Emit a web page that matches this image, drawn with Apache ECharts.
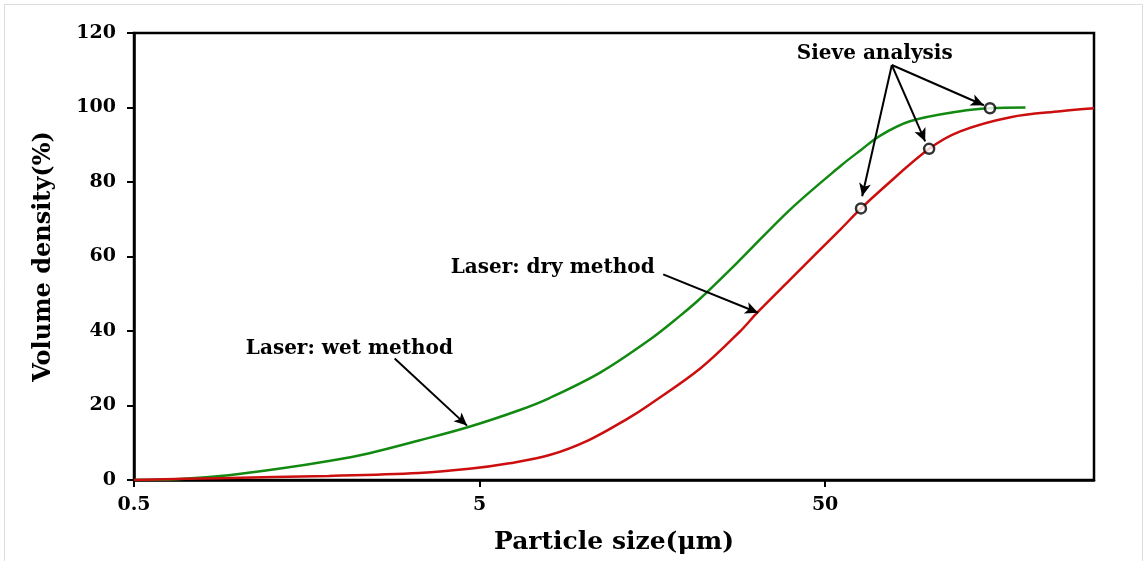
<!DOCTYPE html>
<html>
<head>
<meta charset="utf-8">
<script src="https://cdn.jsdelivr.net/npm/echarts@6/dist/echarts.min.js"></script>
<style>
html,body{margin:0;padding:0;background:#fff;}
#chart{width:1146px;height:561px;}
</style>
</head>
<body>
<div id="chart"></div>
<script>
// Particle size (µm) and cumulative volume (%)
const wetSize = [0.5, 0.68, 0.94, 1.31, 1.83, 2.4, 3.34, 4.67, 6.54, 7.97, 11.2, 15.5, 18.97, 21.8, 28.3, 39.6, 55.4, 63.5, 72, 88, 123, 150, 190];
const wetVol  = [0, 0.3, 1.3, 3.0, 5.1, 7.2, 10.6, 14.3, 18.8, 22.0, 28.9, 37.6, 44.0, 48.8, 59.0, 72.6, 84.3, 88.6, 92.4, 96.3, 99, 99.8, 100];
const drySize = [0.5, 0.88, 1.83, 3.34, 4.67, 6.1, 7.97, 10.4, 13.6, 15.5, 21.8, 28.3, 32, 39.6, 55.4, 63.5, 72, 100, 123, 172, 240, 300];
const dryVol  = [0, 0.5, 1.1, 1.9, 3.0, 4.5, 6.7, 10.8, 16.8, 20.2, 30.0, 39.8, 45.2, 53.8, 67.3, 72.9, 77.6, 88.9, 93.6, 97.4, 99, 99.8];
const sieveSize = [63.5, 100, 150];
const sieveVol  = [72.9, 88.9, 99.8];
const xTicks = [0.5, 5, 50];
// annotation texts and their anchor points (data space)
const noteText = ['Laser: wet method', 'Laser: dry method', 'Sieve analysis'];
const noteSize = [2.1, 8.14, 69.6];
const noteVol  = [35.2, 57, 114.3];
// arrows: start [size, vol] -> end [size, vol]
const arrowFrom = [[2.84, 32.6], [17.0, 55.2], [78, 111.4], [78, 111.4], [78, 111.4]];
const arrowTo   = [[4.6, 14.6], [32.0, 44.9], [64, 76.2], [97.4, 90.9], [144, 100.6]];

const FONT = 'DejaVu Serif';
const zip = (a, b) => a.map((v, i) => [v, b[i]]);

const chart = echarts.init(document.getElementById('chart'));
chart.setOption({
  animation: false,
  backgroundColor: '#fff',
  graphic: [{
    type: 'rect', shape: {x: 4.5, y: 4.5, width: 1138, height: 570},
    style: {fill: 'none', stroke: '#dcdcdc', lineWidth: 1}, silent: true
  }],
  grid: {
    left: 134, right: 52, top: 33, bottom: 81,
    show: true, borderColor: '#000', borderWidth: 2.5, backgroundColor: 'transparent'
  },
  xAxis: {
    type: 'log', logBase: 10, min: 0.5, max: 300,
    name: 'Particle size(\u03bcm)', nameLocation: 'middle', nameGap: 50,
    nameTextStyle: {fontFamily: FONT, fontWeight: 'bold', fontSize: 25, color: '#000'},
    axisLine: {show: true, lineStyle: {color: '#000', width: 2.5}},
    axisTick: {show: true, length: 7, lineStyle: {color: '#000', width: 2}, customValues: xTicks},
    axisLabel: {show: true, customValues: xTicks, margin: 16, fontFamily: FONT, fontWeight: 'bold', fontSize: 19, color: '#000',
      formatter: v => String(v)},
    minorTick: {show: false},
    splitLine: {show: false}
  },
  yAxis: {
    type: 'value', min: 0, max: 120, interval: 20,
    name: 'Volume density(%)', nameLocation: 'middle', nameGap: 78,
    nameTextStyle: {fontFamily: FONT, fontWeight: 'bold', fontSize: 24, color: '#000'},
    axisLine: {show: true, lineStyle: {color: '#000', width: 2.5}},
    axisTick: {show: true, length: 7, lineStyle: {color: '#000', width: 2}},
    axisLabel: {margin: 18, fontFamily: FONT, fontWeight: 'bold', fontSize: 19, color: '#000'},
    splitLine: {show: false}
  },
  series: [
    {
      name: 'Laser: wet method', type: 'line', data: zip(wetSize, wetVol),
      smooth: 0.35, showSymbol: false, lineStyle: {color: '#128a12', width: 2.5}, z: 3
    },
    {
      name: 'Laser: dry method', type: 'line', data: zip(drySize, dryVol),
      smooth: 0.35, showSymbol: false, lineStyle: {color: '#cc0e0e', width: 2.5}, z: 3
    },
    {
      name: 'Sieve analysis', type: 'scatter', data: zip(sieveSize, sieveVol),
      symbol: 'circle', symbolSize: 10,
      itemStyle: {color: '#fff', borderColor: '#000', borderWidth: 2.5}, z: 5
    },
    {
      name: 'notes', type: 'line', data: [], z: 6,
      markLine: {
        silent: true, symbol: ['none', 'arrow'], symbolSize: [9, 13],
        lineStyle: {color: '#000', width: 2, type: 'solid'},
        label: {show: false},
        data: arrowFrom.map((f, i) => [{coord: f}, {coord: arrowTo[i]}])
      },
      markPoint: {
        silent: true, symbol: 'circle', symbolSize: 1, itemStyle: {color: 'rgba(0,0,0,0)'},
        label: {show: true, position: 'inside', formatter: p => p.name,
          fontFamily: FONT, fontWeight: 'bold', fontSize: 20, color: '#000'},
        data: noteText.map((t, i) => ({name: t, coord: [noteSize[i], noteVol[i]]}))
      }
    }
  ]
});
</script>
</body>
</html>
